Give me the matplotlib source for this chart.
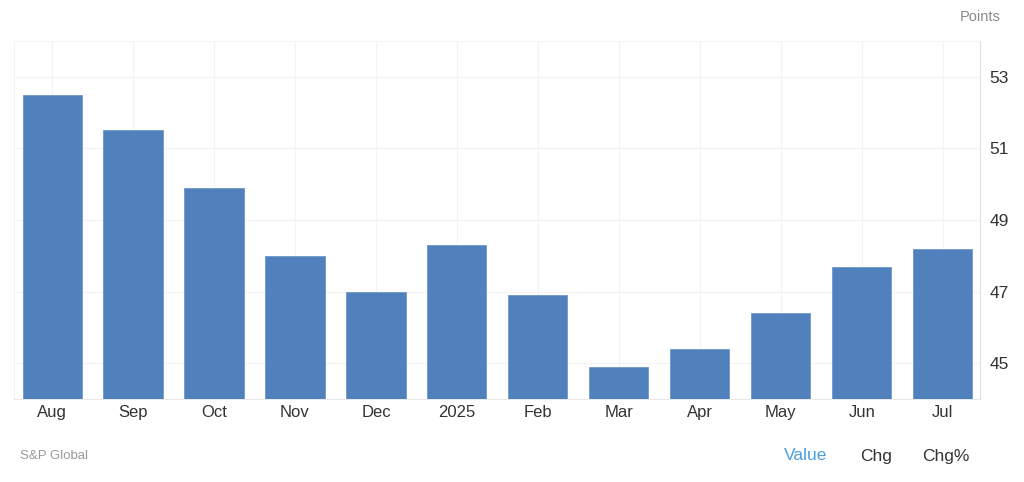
import numpy as np
import matplotlib.pyplot as plt

months = ["Aug", "Sep", "Oct", "Nov", "Dec", "2025", "Feb", "Mar", "Apr", "May", "Jun", "Jul"]
values = [52.5, 51.5, 49.9, 48.0, 47.0, 48.3, 46.9, 44.9, 45.4, 46.4, 47.7, 48.2]
yticks = [45, 47, 49, 51, 53]

plt.rcParams['font.family'] = ['Liberation Sans', 'DejaVu Sans']

fig = plt.figure(figsize=(10.24, 4.82), dpi=100)
ax = fig.add_axes([14/1024, 83/482, 966/1024, 358/482])

x = np.arange(len(months))
ax.bar(x, [v - 44 for v in values], bottom=44, width=0.73, color='#5081bd',
       edgecolor='#6d97cc', linewidth=0.6, zorder=3)

ax.set_xlim(-0.47, 11.46)
ax.set_ylim(44, 54)
ax.set_xticks(x)
ax.set_xticklabels(months, fontsize=12, color='#333333')
ax.set_yticks(yticks)
ax.yaxis.tick_right()
ax.set_yticklabels([str(t) for t in yticks], fontsize=12.5, color='#333333')
ax.tick_params(axis='both', length=0)
ax.tick_params(axis='y', pad=7)
ax.tick_params(axis='x', pad=4)

# light grid like the web chart
ax.grid(True, color='#f3f3f3', linewidth=0.9, zorder=0)
for side in ['top', 'left']:
    ax.spines[side].set_color('#f3f3f3')
ax.spines['bottom'].set_color('#e8e8e8')
ax.spines['right'].set_color('#e0e0e0')

fig.text(1001/1024, 1 - 17/482, "Points", ha='right', va='center', fontsize=10.5, color='#8a8a8a')
fig.text(20/1024, 1 - 456/482, "S&P Global", ha='left', va='center', fontsize=9.5, color='#999999')
fig.text(806/1024, 1 - 456/482, "Value", ha='center', va='center', fontsize=12.5, color='#4a9fe0')
fig.text(876/1024, 1 - 456/482, "Chg", ha='center', va='center', fontsize=12.5, color='#333333')
fig.text(946/1024, 1 - 456/482, "Chg%", ha='center', va='center', fontsize=12.5, color='#333333')

fig.savefig("out.png", dpi=100)
